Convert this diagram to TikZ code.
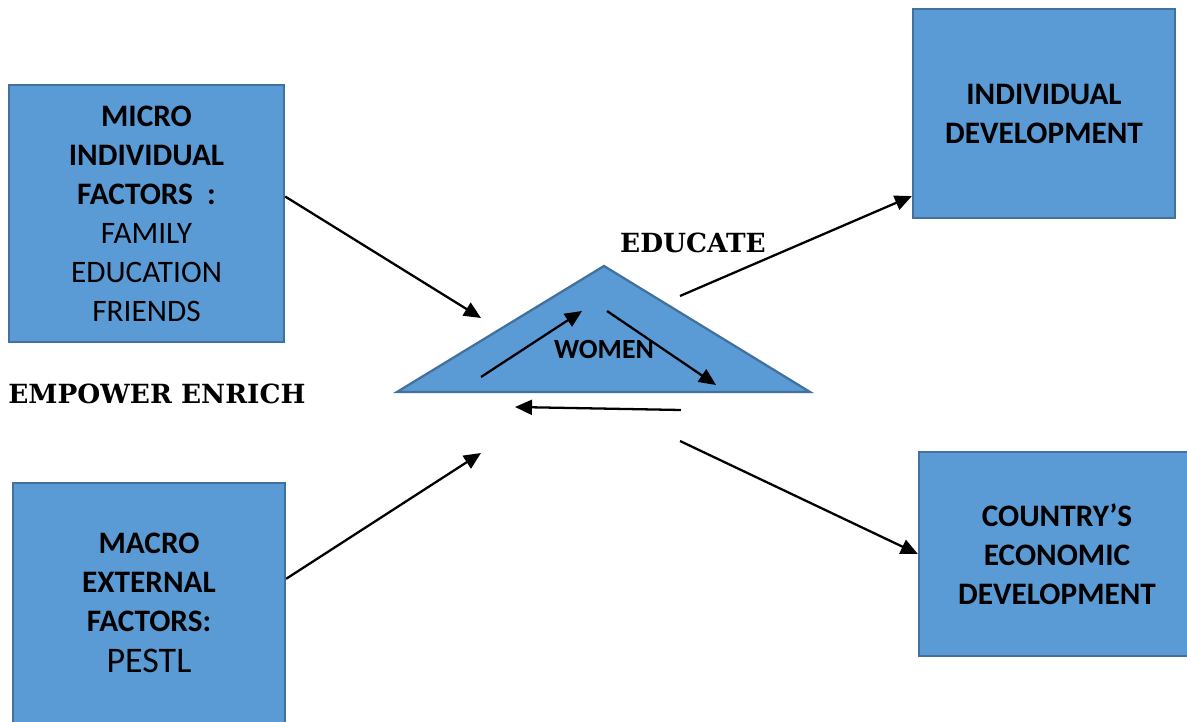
\documentclass[tikz,border=0pt]{standalone}
\usepackage{fontspec}
\setmainfont{Carlito}
\newfontfamily\slabfont{DejaVu Serif}
\usetikzlibrary{arrows.meta}

\definecolor{boxblue}{HTML}{5B9BD5}
\definecolor{edgeblue}{HTML}{41719C}

\tikzset{
  factorbox/.style={draw=edgeblue, line width=1.3pt, fill=boxblue, align=center,
    inner sep=0pt, font=\fontsize{17.8}{22.2}\selectfont},
  flow/.style={line width=1.3pt, -{Triangle[length=0.34cm, width=0.3cm]}},
  slab/.style={font=\slabfont\bfseries\fontsize{15}{18}\selectfont}
}

\begin{document}
\begin{tikzpicture}[x=0.02cm, y=-0.02cm]
        \clip (0,0) rectangle (1187,722);

        % Cajas
        \node[factorbox, minimum width=5.5cm, minimum height=5.14cm] (micro) at (146.5,213.5)
          {\textbf{MICRO}\\ \textbf{INDIVIDUAL}\\ \textbf{FACTORS\ \ :}\\ FAMILY\\ EDUCATION\\ FRIENDS};
        \node[factorbox, minimum width=5.44cm, minimum height=4.8cm] (macro) at (149,603)
          {\textbf{MACRO}\\ \textbf{EXTERNAL}\\ \textbf{FACTORS:}\\[1pt] {\fontsize{20.5}{24}\selectfont PESTL}};
        \node[factorbox, minimum width=5.24cm, minimum height=4.18cm] (indiv) at (1044,113.5)
          {\textbf{INDIVIDUAL}\\ \textbf{DEVELOPMENT}};
        \node[factorbox, minimum width=5.52cm, minimum height=4.08cm] (country) at (1057,554)
          {\textbf{COUNTRY’S}\\ \textbf{ECONOMIC}\\ \textbf{DEVELOPMENT}};

        % Triangulo
        \coordinate (apex) at (604,266);
        \coordinate (left) at (397,392);
        \coordinate (right) at (810,392);
        \draw[edgeblue, line width=1.3pt, fill=boxblue] (left) -- (apex) -- (right) -- cycle;
        \node[font=\bfseries\fontsize{15.8}{18}\selectfont] (women) at (604,349) {WOMEN};

        % Etiquetas
        \node[slab] (educate) at (693,243) {EDUCATE};
        \node[slab, anchor=west, inner sep=0pt] (empower) at (8,394) {EMPOWER ENRICH};

        % Extremos libres
        \coordinate (inA) at (481,318);
        \coordinate (inB) at (481,453);
        \coordinate (outA) at (680,296);
        \coordinate (outB) at (680,441);
        \coordinate (upS) at (481,377);
        \coordinate (upE) at (582,311);
        \coordinate (dnS) at (607,311);
        \coordinate (dnE) at (716,385);
        \coordinate (backS) at (681,410);
        \coordinate (backE) at (515,407);

        % Flechas
        \draw[flow] (micro.7) -- (inA);
        \draw[flow] (macro.10) -- (inB);
        \draw[flow] (outA) -- (indiv.212);
        \draw[flow] (outB) -- (country.west);
        \draw[flow] (upS) -- (upE);
        \draw[flow] (dnS) -- (dnE);
        \draw[flow] (backS) -- (backE);
    \end{tikzpicture}
\end{document}
